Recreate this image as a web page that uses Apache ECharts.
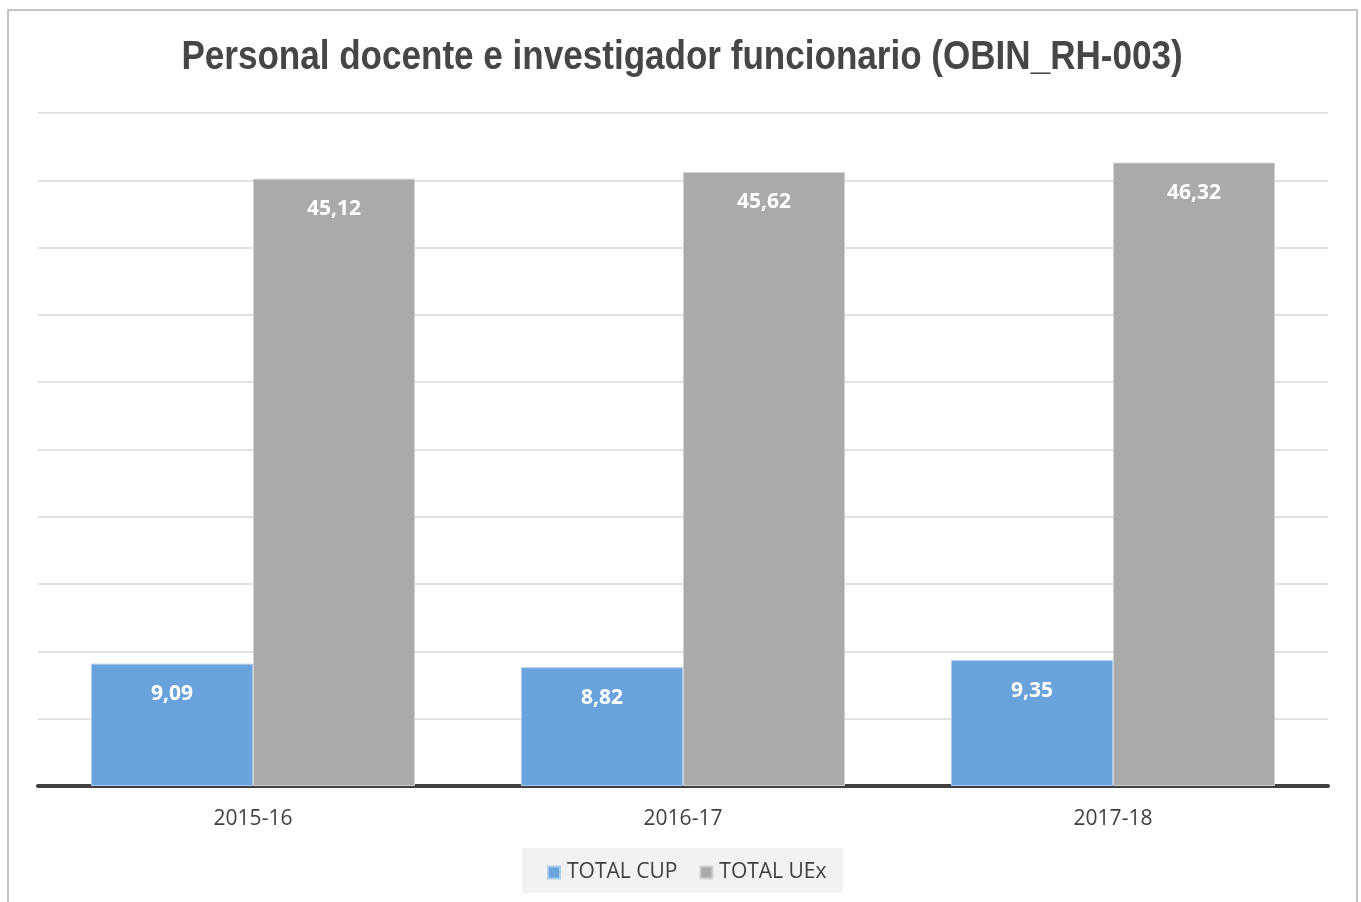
<!DOCTYPE html>
<html><head><meta charset="utf-8">
<script src="https://cdn.jsdelivr.net/npm/echarts@6/dist/echarts.min.js"></script>
<style>html,body{margin:0;padding:0;background:#fff}#c{width:1361px;height:902px}</style>
</head><body><div id="c"></div>
<script>
const categories = ['2015-16', '2016-17', '2017-18'];
const totalCUP = [9.09, 8.82, 9.35];
const totalUEx = [45.12, 45.62, 46.32];
const seriesNames = ['TOTAL CUP', 'TOTAL UEx'];
const titleText = 'Personal docente e investigador funcionario (OBIN_RH-003)';

const fmt = v => v.toFixed(2).replace('.', ',');
const chart = echarts.init(document.getElementById('c'));
const labelCfg = {
  show: true, position: 'insideTop', distance: 20,
  color: '#ffffff', fontWeight: 'bold', fontSize: 21, fontFamily: 'Open Sans',
  formatter: p => fmt(p.value)
};
chart.setOption({
  animation: false,
  aria: {enabled: false},
  graphic: [
    {type: 'rect', shape: {x: 8, y: 10, width: 1349, height: 900}, style: {fill: 'none', stroke: '#c4c4c4', lineWidth: 2}, z: -1},
    {type: 'rect', shape: {x: 522, y: 848, width: 321, height: 45}, style: {fill: '#f2f2f2'}, z: -1},
    {type: 'text', x: 682, y: 58, scaleX: 0.855,
     style: {text: titleText, x: 0, y: 0, textAlign: 'center', textVerticalAlign: 'middle',
             fontFamily: '"Liberation Sans", Arial, sans-serif', fontWeight: 'bold', fontSize: 41, fill: '#464646'}}
  ],
  legend: {
    data: seriesNames, top: 857, left: 542, itemWidth: 12, itemHeight: 12, itemGap: 22,
    icon: 'rect',
    textStyle: {fontFamily: 'Open Sans', fontSize: 21, color: '#404040', padding: [0, 0, 0, 2]}
  },
  grid: {left: 38, right: 33, top: 113, bottom: 116, containLabel: false},
  xAxis: {
    type: 'category', data: categories,
    axisLine: {lineStyle: {color: '#404040', width: 4}},
    axisTick: {show: false},
    axisLabel: {fontFamily: 'Open Sans', fontSize: 21, color: '#404040', margin: 23}
  },
  yAxis: {
    type: 'value', min: 0, max: 50, interval: 5,
    axisLabel: {show: false}, axisLine: {show: false}, axisTick: {show: false},
    splitLine: {lineStyle: {color: '#d9d9d9', width: 1.5}}
  },
  series: [
    {name: seriesNames[0], type: 'bar', data: totalCUP, barWidth: 162, barGap: '0%',
     itemStyle: {color: '#6aa3db', borderColor: '#a9cbee', borderWidth: 1}, label: labelCfg},
    {name: seriesNames[1], type: 'bar', data: totalUEx, barWidth: 162, barGap: '0%',
     itemStyle: {color: '#aaaaaa', borderColor: '#d0d0d0', borderWidth: 1}, label: labelCfg}
  ]
});
</script></body></html>
